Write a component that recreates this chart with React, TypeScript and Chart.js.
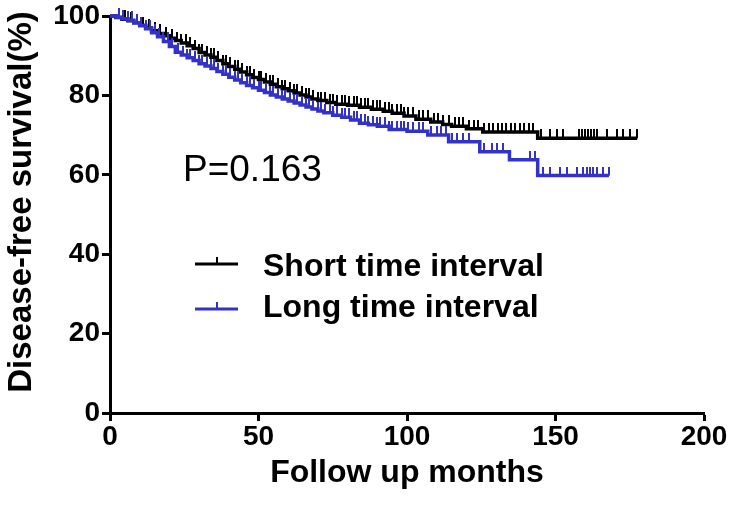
import React, { useEffect, useRef } from 'react';
import { Chart, registerables } from 'chart.js';

Chart.register(...registerables);

// ---- Data ----
const seriesNames = ['Short time interval', 'Long time interval'];
const seriesColors = ['#000000', '#3232C8'];

// Kaplan-Meier steps: [month, survival %]
const shortSteps: [number, number][] = [
  [0, 100], [2, 99.6], [4, 99.2], [6, 98.8], [8, 98.3], [10, 97.6], [12, 97], [14, 96.3],
  [16, 95.6], [18, 95], [20, 94.4], [22, 93.8], [24, 93.2], [26, 92.5], [28, 91.8],
  [30, 90.8], [32, 90.2], [34, 89.6], [36, 88.8], [38, 88], [40, 87.3], [42, 86.6],
  [44, 85.9], [46, 85.2], [48, 84.5], [50, 84], [52, 83.4], [54, 82.8], [56, 82.2],
  [58, 81.7], [60, 81.2], [62, 80.6], [64, 80.1], [66, 79.6], [68, 79.1], [70, 78.7],
  [73, 78.2], [76, 77.8], [80, 77.5], [84, 77], [88, 76.5], [92, 76], [95, 75.5],
  [99, 74.8], [103, 74], [108, 73.3], [112, 72.7], [115, 72.2], [120, 71.6],
  [125.5, 70.8], [144, 69.2],
];
const shortEnd = 177.5;
const shortCensor: number[] = [
  3, 5, 7, 9, 11, 13, 15, 17, 19, 21, 22.5, 24, 25.5, 27, 28.5, 30, 31, 32.5, 34, 35,
  36.5, 38, 39, 40.5, 42, 43, 44.5, 46, 47, 48.5, 50, 51, 52.5, 54, 55, 56.5, 58, 59,
  60.5, 62, 63, 64.5, 66, 67, 68.5, 70, 71, 72.5, 74, 75, 76.5, 78, 79, 80.5, 82, 83,
  84.5, 86, 87, 88.5, 90, 91, 92.5, 94, 95, 96.5, 98, 99, 100.5, 102, 104, 105.5, 107,
  109, 110.5, 112, 114, 116, 117.5, 119, 121, 122.5, 124, 126, 127.5, 129, 130.5, 132,
  133.5, 135, 136.5, 138, 139.5, 141, 142.5, 145, 148, 150.5, 152.5, 158, 159, 160,
  161, 162, 163, 164, 167.3, 170.7, 172.7, 175, 177.5,
];

const longSteps: [number, number][] = [
  [0, 100], [2, 99.7], [4, 99.3], [6, 98.9], [8, 98.3], [10, 97.6], [12, 96.8],
  [14, 95.8], [16, 94.8], [18, 93.6], [20, 92.3], [22, 90.9], [24, 90.2], [26, 89.5],
  [28, 88.8], [30, 88], [32, 87.4], [34, 86.8], [36, 86], [38, 85.3], [40, 84.6],
  [42, 83.9], [44, 83.2], [46, 82.5], [48, 81.9], [50, 81.3], [52, 80.7], [54, 80.1],
  [56, 79.6], [58, 79.1], [60, 78.6], [62, 78.1], [64, 77.6], [66, 77.1], [68, 76.6],
  [70, 76.1], [72, 75.6], [75, 75], [78, 74.5], [81, 73.8], [84, 73], [87, 72.6],
  [90, 72.2], [94, 71.4], [100, 71], [107, 70], [114, 68.3], [124.5, 65.8],
  [134.5, 63.8], [144, 59.8],
];
const longEnd = 168;
const longCensor: number[] = [
  3, 4.5, 6, 7.5, 9, 10.5, 12, 13.5, 15, 16.5, 18, 19.5, 21, 23, 24.5, 26, 27, 28.5,
  30, 31, 32.5, 34, 35, 36.5, 38, 39, 40.5, 42, 43, 44.5, 46, 47, 48.5, 50, 51, 52.5,
  54, 55, 56.5, 58, 59, 60.5, 62, 63, 64.5, 66, 67, 68.5, 70, 71, 72.5, 74, 75, 76.5,
  78, 79, 80.5, 82, 83, 84.5, 86, 87, 88.5, 90, 91, 92.5, 94, 95, 96.5, 98, 99, 100.5,
  102, 104, 105.5, 108, 110, 111.5, 113, 115, 117, 119, 121, 126, 128.6, 130.3, 132.3,
  141.4, 143, 145.8, 148, 151.5, 153.9, 157.2, 159.3, 160.5, 161.5, 162.5, 164, 166, 168,
];

const xTicks = [0, 50, 100, 150, 200];
const yTicks = [0, 20, 40, 60, 80, 100];
const xTitle = 'Follow up months';
const yTitle = 'Disease-free survival(%)';
const pText = 'P=0.163';

const FONT = '"Liberation Sans", Arial, Helvetica, sans-serif';

function stepLine(steps: [number, number][], end: number) {
  const pts = steps.map(([x, y]) => ({ x, y }));
  pts.push({ x: end, y: steps[steps.length - 1][1] });
  return pts;
}

function survivalAt(steps: [number, number][], t: number) {
  let v = steps[0][1];
  for (const [x, y] of steps) {
    if (x <= t) v = y;
    else break;
  }
  return v;
}

function tickImage(color: string) {
  const c = document.createElement('canvas');
  c.width = 2;
  c.height = 18;
  const g = c.getContext('2d')!;
  g.fillStyle = color;
  g.fillRect(0, 0, 2, 9);
  return c;
}

const textPlugin = {
  id: 'kmTexts',
  afterDraw(chart: any) {
    const { ctx, chartArea } = chart;
    ctx.save();
    ctx.fillStyle = '#000';
    // x title
    ctx.font = `bold 32px ${FONT}`;
    ctx.textAlign = 'center';
    ctx.textBaseline = 'alphabetic';
    ctx.fillText(xTitle, (chartArea.left + chartArea.right) / 2, 482);
    // y title
    ctx.save();
    ctx.translate(31, 202);
    ctx.rotate(-Math.PI / 2);
    ctx.font = `bold 33px ${FONT}`;
    ctx.fillText(yTitle, 0, 0);
    ctx.restore();
    // P value
    ctx.font = `37px ${FONT}`;
    ctx.textAlign = 'left';
    ctx.fillText(pText, 183, 181);
    // legend
    const rows = [264, 309];
    const baselines = [276, 317];
    seriesNames.forEach((name, i) => {
      ctx.strokeStyle = seriesColors[i];
      ctx.lineWidth = 3;
      ctx.beginPath();
      ctx.moveTo(195, rows[i]);
      ctx.lineTo(238, rows[i]);
      ctx.stroke();
      ctx.lineWidth = 2;
      ctx.beginPath();
      ctx.moveTo(217, rows[i]);
      ctx.lineTo(217, rows[i] - 7);
      ctx.stroke();
      ctx.fillStyle = '#000';
      ctx.font = `bold 32px ${FONT}`;
      ctx.fillText(name, 263, baselines[i]);
    });
    ctx.restore();
  },
};

export default function App() {
  const ref = useRef<HTMLCanvasElement>(null);

  useEffect(() => {
    const canvas = ref.current!;
    const shortTick = tickImage(seriesColors[0]);
    const longTick = tickImage(seriesColors[1]);
    const chart = new Chart(canvas, {
      type: 'line',
      data: {
        datasets: [
          {
            label: seriesNames[1] + ' censored',
            type: 'scatter',
            data: longCensor.map((t) => ({ x: t, y: survivalAt(longSteps, t) })),
            pointStyle: longTick as any,
            showLine: false,
            clip: false as any,
            order: 1,
          },
          {
            label: seriesNames[1],
            data: stepLine(longSteps, longEnd),
            stepped: 'before',
            borderColor: seriesColors[1],
            borderWidth: 3.5,
            pointRadius: 0,
            fill: false,
            clip: false as any,
            order: 1,
          },
          {
            label: seriesNames[0] + ' censored',
            type: 'scatter',
            data: shortCensor.map((t) => ({ x: t, y: survivalAt(shortSteps, t) })),
            pointStyle: shortTick as any,
            showLine: false,
            clip: false as any,
            order: 2,
          },
          {
            label: seriesNames[0],
            data: stepLine(shortSteps, shortEnd),
            stepped: 'before',
            borderColor: seriesColors[0],
            borderWidth: 3.5,
            pointRadius: 0,
            fill: false,
            clip: false as any,
            order: 2,
          },
        ],
      },
      options: {
        animation: false,
        responsive: false,
        maintainAspectRatio: false,
        layout: { padding: { top: 16, right: 31, left: 0, bottom: 0 } },
        plugins: { legend: { display: false }, tooltip: { enabled: false } },
        scales: {
          x: {
            type: 'linear',
            min: 0,
            max: 200,
            afterBuildTicks: (s: any) => {
              s.ticks = xTicks.map((v) => ({ value: v }));
            },
            afterFit: (s: any) => {
              s.height = 98;
            },
            grid: {
              drawOnChartArea: false,
              drawTicks: true,
              tickLength: 8,
              tickWidth: 3,
              tickColor: '#000',
            },
            border: { display: true, width: 3, color: '#000' },
            ticks: {
              color: '#000',
              padding: 2,
              maxRotation: 0,
              font: { family: FONT, size: 28, weight: 'bold', lineHeight: 1 },
            },
          },
          y: {
            type: 'linear',
            min: 0,
            max: 100,
            afterBuildTicks: (s: any) => {
              s.ticks = yTicks.map((v) => ({ value: v }));
            },
            afterFit: (s: any) => {
              s.width = 110;
            },
            grid: {
              drawOnChartArea: false,
              drawTicks: true,
              tickLength: 8,
              tickWidth: 3,
              tickColor: '#000',
            },
            border: { display: true, width: 3, color: '#000' },
            ticks: {
              color: '#000',
              padding: 2,
              font: { family: FONT, size: 28, weight: 'bold', lineHeight: 1 },
            },
          },
        },
      },
      plugins: [textPlugin],
    } as any);
    return () => chart.destroy();
  }, []);

  return (
    <div style={{ position: 'absolute', left: 0, top: 0, width: 735, height: 511, background: '#fff' }}>
      <canvas ref={ref} width={735} height={511} style={{ width: 735, height: 511, display: 'block' }} />
    </div>
  );
}
